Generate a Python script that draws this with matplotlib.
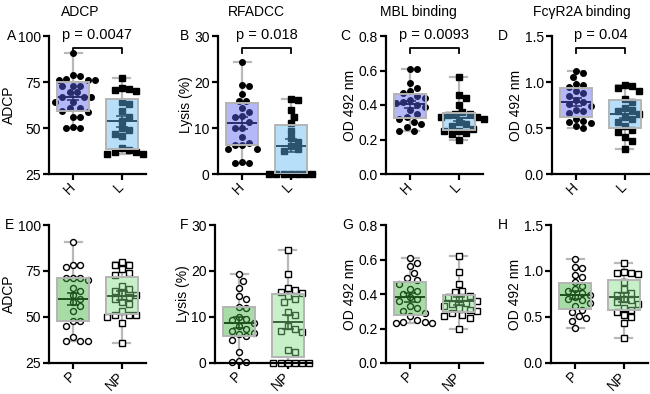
import numpy as np
import matplotlib
matplotlib.use('Agg')
import matplotlib.pyplot as plt

plt.rcParams['font.family'] = ['Liberation Sans', 'DejaVu Sans']
plt.rcParams['font.size'] = 10

# ---- data ----
adcp_h = [90.5, 78.6, 78.4, 76.5, 76.3, 76.2, 76.0, 73.0, 72.8, 72.6, 69.6, 69.3,
          67.0, 66.8, 66.6, 64.3, 64.1, 61.0, 60.8, 59.0, 58.8, 56.0, 55.8, 50.4, 50.2, 50.0]
adcp_l = [77, 72, 71, 70.5, 70.3, 64, 63, 59, 56, 54, 50, 49, 47, 45.5, 39, 37, 36, 36, 37, 38]
lysis_h = [24.3, 19.3, 19.2, 17.3, 15.9, 15.8, 14.3, 13.5, 12.7, 12.4, 11.4, 10.0,
           9.9, 8.0, 6.8, 6.4, 6.3, 5.5, 5.4, 2.6, 2.4, 2.4]
lysis_l = [16.2, 16.0, 13.9, 12.5, 11.1, 9.4, 7.8, 7.0, 6.0, 5.4, 5.0, 0, 0, 0, 0, 0, 0, 0]
mbl_h = [0.61, 0.61, 0.53, 0.50, 0.48, 0.47, 0.45, 0.44, 0.43, 0.42, 0.41, 0.40,
         0.39, 0.37, 0.35, 0.33, 0.32, 0.30, 0.29, 0.27, 0.25, 0.25]
mbl_l = [0.56, 0.46, 0.44, 0.40, 0.36, 0.35, 0.35, 0.34, 0.33, 0.33, 0.32, 0.30,
         0.29, 0.28, 0.26, 0.25, 0.25, 0.24, 0.23, 0.20]
fcr_h = [1.12, 1.10, 1.05, 0.98, 0.97, 0.95, 0.90, 0.88, 0.85, 0.80, 0.78, 0.76,
         0.74, 0.70, 0.68, 0.66, 0.60, 0.58, 0.56, 0.55, 0.52, 0.50]
fcr_l = [0.97, 0.96, 0.94, 0.90, 0.82, 0.78, 0.72, 0.70, 0.68, 0.65, 0.62, 0.60,
         0.57, 0.52, 0.48, 0.46, 0.40, 0.36, 0.27]

adcp_p = [91, 78, 78, 77, 71, 71, 71, 70, 66, 64, 62, 60, 58, 56, 53, 48, 48, 45, 39, 37, 37, 37]
adcp_np = [80, 78, 78, 76, 74, 73, 67, 65, 64, 63, 62, 61, 60, 58, 57, 53, 51, 51, 51, 50, 47, 36]
lysis_p = [19.3, 17.8, 16.2, 14.6, 14.0, 12.1, 12.0, 9.9, 9.6, 9.4, 8.8, 8.0, 7.4, 7.0,
           6.5, 6.3, 5.8, 5.0, 2.5, 0.4, 0.2, 0.2]
lysis_np = [24.5, 19.3, 16.2, 15.8, 15.5, 15.2, 14.6, 13.9, 13.2, 11.0, 10.5, 8.0, 7.5,
            7.0, 6.8, 2.8, 2.5, 0, 0, 0, 0, 0, 0]
mbl_p = [0.61, 0.58, 0.56, 0.52, 0.49, 0.48, 0.46, 0.43, 0.42, 0.40, 0.38, 0.37, 0.36,
         0.33, 0.32, 0.30, 0.29, 0.27, 0.25, 0.24, 0.24, 0.23, 0.23]
mbl_np = [0.62, 0.53, 0.46, 0.42, 0.41, 0.39, 0.38, 0.37, 0.36, 0.35, 0.34, 0.33,
          0.32, 0.31, 0.30, 0.29, 0.28, 0.27, 0.26, 0.20]
fcr_p = [1.13, 1.04, 1.03, 0.96, 0.93, 0.88, 0.84, 0.80, 0.78, 0.76, 0.74, 0.72,
         0.70, 0.68, 0.65, 0.62, 0.58, 0.55, 0.51, 0.49, 0.46, 0.38]
fcr_np = [1.09, 0.99, 0.98, 0.98, 0.97, 0.88, 0.80, 0.76, 0.74, 0.70, 0.68, 0.66,
          0.64, 0.60, 0.58, 0.55, 0.52, 0.50, 0.43, 0.27]

titles = ['ADCP', 'RFADCC', 'MBL binding', 'Fc\u03b3R2A binding']
ylabels = ['ADCP', 'Lysis (%)', 'OD 492 nm', 'OD 492 nm']
pvals = ['p = 0.0047', 'p = 0.018', 'p = 0.0093', 'p = 0.04']
yticks = [[25, 50, 75, 100], [0, 10, 20, 30], [0.0, 0.2, 0.4, 0.6, 0.8], [0.0, 0.5, 1.0, 1.5]]
yfmt = ['{:.0f}', '{:.0f}', '{:.1f}', '{:.1f}']

W, H = 650, 394
fig = plt.figure(figsize=(6.5, 3.94), dpi=100)

# pixel layout
top_x = [49, 218, 386, 552]
bot_x = [49, 215, 386, 551]
row_y = [(36, 138), (225, 138)]
title_x = [80, 256, 418, 582]
letter_x = [[7, 180, 340, 498], [5, 180, 342, 498]]

colors = {'H': (0.35, 0.38, 0.94), 'L': (0.38, 0.73, 0.96),
          'P': (0.24, 0.70, 0.24), 'NP': (0.52, 0.87, 0.52)}


def swarm(vals, xs, ys, d):
    # simple beeswarm: spread points sideways so they do not overlap
    vals = np.asarray(vals, float)
    offs = np.zeros(len(vals))
    placed = []
    step = d * 0.5
    for i in np.argsort(-vals):
        py = vals[i] * ys
        for k in range(60):
            c = ((k + 1) // 2) * step * (1 if k % 2 else -1)
            if all((c - ox) ** 2 + (py - oy) ** 2 >= d ** 2 for ox, oy in placed):
                break
        placed.append((c, py))
        offs[i] = c / xs
    return offs


def panel(ax, data, names, ylim, ticks, fmt, filled):
    w_px = ax.get_position().width * W
    h_px = ax.get_position().height * H
    xs = w_px / 2.0
    ys = h_px / (ylim[1] - ylim[0])
    bp = ax.boxplot(data, positions=[0, 1], widths=0.66, whis=(0, 100), patch_artist=True,
                    showfliers=False, capwidths=0.36, zorder=3,
                    medianprops=dict(linewidth=0),
                    whiskerprops=dict(color='#b8b8b8', lw=1.6, zorder=1),
                    capprops=dict(color='#b8b8b8', lw=1.6, zorder=1))
    for patch, n in zip(bp['boxes'], names):
        patch.set_facecolor(colors[n] + (0.45,))
        patch.set_edgecolor('#b4b4b4')
        patch.set_linewidth(1.4)
    for i, (vals, n) in enumerate(zip(data, names)):
        offs = swarm(vals, xs, ys, 7.2)
        mk = 'o' if i == 0 else 's'
        if filled:
            ax.plot(i + offs, vals, mk, ms=4.0, mfc='k', mec='k', zorder=2, clip_on=False)
        else:
            ax.plot(i + offs, vals, mk, ms=4.3, mfc='white', mec='k', mew=1.0,
                    zorder=2, clip_on=False)
        m = np.mean(vals)
        sem = np.std(vals, ddof=1) / np.sqrt(len(vals))
        ax.hlines(m, i - 0.33, i + 0.33, color='k', lw=1.4, zorder=2)
        ax.errorbar(i, m, yerr=sem, color='k', lw=1.1, capsize=4, capthick=1.1, zorder=2)
    ax.set_xlim(-0.5, 1.5)
    ax.set_ylim(*ylim)
    ax.set_yticks(ticks)
    ax.set_yticklabels([fmt.format(t) for t in ticks])
    ax.set_xticks([0, 1])
    ax.set_xticklabels(names, rotation=45, ha='right', va='center', rotation_mode='anchor')
    for s in ['top', 'right']:
        ax.spines[s].set_visible(False)
    for s in ['left', 'bottom']:
        ax.spines[s].set_linewidth(1.6)
    ax.tick_params(direction='out', length=4, width=1.6, labelsize=10, pad=2)
    ax.tick_params(axis='x', pad=4)


top_data = [(adcp_h, adcp_l), (lysis_h, lysis_l), (mbl_h, mbl_l), (fcr_h, fcr_l)]
bot_data = [(adcp_p, adcp_np), (lysis_p, lysis_np), (mbl_p, mbl_np), (fcr_p, fcr_np)]
letters = ['ABCD', 'EFGH']

for r, (rowdata, xs_row, names, filled) in enumerate([(top_data, top_x, ('H', 'L'), True),
                                                        (bot_data, bot_x, ('P', 'NP'), False)]):
    yt, hh = row_y[r]
    for c in range(4):
        x0 = xs_row[c]
        ax = fig.add_axes([x0 / W, 1 - (yt + hh) / H, 97 / W, hh / H])
        ylim = (yticks[c][0], yticks[c][-1])
        panel(ax, rowdata[c], names, ylim, yticks[c], yfmt[c], filled)
        ax.set_ylabel(ylabels[c], fontsize=10, labelpad=1)
        fig.text(letter_x[r][c] / W, 1 - yt / H, letters[r][c], fontsize=10,
                 ha='left', va='center')
        if r == 0:
            fig.text(title_x[c] / W, 1 - 12 / H, titles[c], fontsize=10, ha='center', va='center')
            span = ylim[1] - ylim[0]
            yb = ylim[0] + 0.91 * span
            ax.plot([0, 0, 1, 1], [yb - 0.035 * span, yb, yb, yb - 0.035 * span],
                    color='k', lw=1.3, clip_on=False)
            ax.text(0.5, ylim[0] + 0.96 * span, pvals[c], ha='center', va='bottom', fontsize=10.5)

fig.savefig('out.png', dpi=100)
